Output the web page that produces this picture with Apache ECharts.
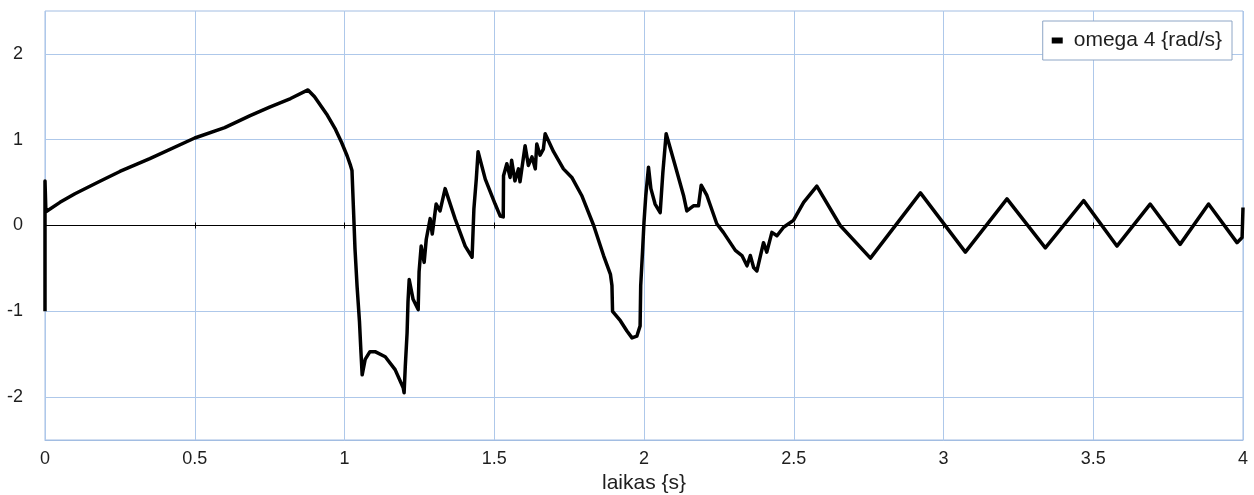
<!DOCTYPE html>
<html>
<head>
<meta charset="utf-8">
<script src="https://cdn.jsdelivr.net/npm/echarts@6/dist/echarts.min.js"></script>
<style>
  html, body { margin: 0; padding: 0; background: #fff; }
  #chart { width: 1254px; height: 495px; }
</style>
</head>
<body>
<div id="chart"></div>
<script>
// Time samples (s) and angular velocity omega 4 (rad/s)
const timeSec = [
  0, 0, 0.003, 0.05, 0.10, 0.18, 0.25, 0.35, 0.50, 0.60, 0.685, 0.75, 0.82, 0.878,
  0.90, 0.94, 0.97, 0.99, 1.009, 1.02, 1.025, 1.030, 1.035, 1.042, 1.050, 1.055, 1.059, 1.069, 1.085,
  1.102, 1.136, 1.169, 1.196, 1.199, 1.203, 1.209, 1.212, 1.216, 1.229, 1.246, 1.249,
  1.256, 1.266, 1.273, 1.286, 1.293, 1.306, 1.319, 1.336, 1.369, 1.403, 1.426, 1.430,
  1.432, 1.440, 1.446, 1.470, 1.503, 1.520, 1.530, 1.531, 1.542, 1.553, 1.558, 1.569,
  1.581, 1.586, 1.603, 1.614, 1.626, 1.637, 1.642, 1.653, 1.664, 1.670, 1.698, 1.731,
  1.759, 1.792, 1.832, 1.865, 1.888, 1.893, 1.895, 1.921, 1.943, 1.960, 1.976, 1.987,
  1.989, 1.995, 2.000, 2.006, 2.015, 2.023, 2.037, 2.054, 2.063, 2.074, 2.104, 2.132,
  2.143, 2.165, 2.182, 2.191, 2.210, 2.243, 2.265, 2.305, 2.327, 2.344, 2.355, 2.366,
  2.377, 2.399, 2.410, 2.427, 2.444, 2.466, 2.499, 2.533, 2.577, 2.655, 2.756, 2.923,
  3.073, 3.212, 3.340, 3.468, 3.579, 3.690, 3.790, 3.885, 3.980, 3.997, 4.000
];
const omega4 = [
  -1.00, 0.52, 0.16, 0.27, 0.37, 0.51, 0.63, 0.78, 1.02, 1.14, 1.28, 1.38, 1.48, 1.58,
  1.50, 1.30, 1.12, 0.97, 0.81, 0.70, 0.64, 0.19, -0.27, -0.71, -1.12, -1.48, -1.74, -1.56, -1.47,
  -1.47, -1.53, -1.68, -1.89, -1.95, -1.64, -1.25, -0.89, -0.63, -0.86, -0.98, -0.54,
  -0.24, -0.43, -0.16, 0.08, -0.10, 0.25, 0.17, 0.43, 0.08, -0.24, -0.37, -0.39,
  0.19, 0.54, 0.86, 0.54, 0.25, 0.11, 0.10, 0.58, 0.72, 0.56, 0.76, 0.52,
  0.66, 0.51, 0.93, 0.70, 0.80, 0.66, 0.95, 0.82, 0.89, 1.07, 0.86, 0.66,
  0.56, 0.35, 0.00, -0.35, -0.57, -0.70, -1.00, -1.11, -1.23, -1.31, -1.29, -1.17,
  -0.70, -0.31, 0.04, 0.35, 0.68, 0.43, 0.25, 0.15, 0.62, 1.07, 0.70, 0.35,
  0.17, 0.23, 0.23, 0.47, 0.35, 0.02, -0.08, -0.29, -0.35, -0.47, -0.35, -0.49,
  -0.53, -0.20, -0.31, -0.08, -0.12, -0.02, 0.06, 0.27, 0.46, 0.00, -0.38, 0.38,
  -0.31, 0.31, -0.26, 0.29, -0.24, 0.25, -0.22, 0.25, -0.20, -0.14, 0.21
];
const seriesName = 'omega 4 {rad/s}';
const xAxisTitle = 'laikas {s}';
const xRange = [0, 4, 0.5];     // min, max, step
const yRange = [-2.5, 2.5, 0.5]; // min, max, step (labels only on whole numbers)

const points = timeSec.map((t, i) => [t, omega4[i]]);

const gridBlue = '#aec8ea';
const textColor = '#1e1e1e';
const font = '"Liberation Sans", Arial, sans-serif';

const zeroAxis = (inside) => ({
  type: 'value', min: xRange[0], max: xRange[1], interval: xRange[2],
  position: 'bottom',
  axisLine: { show: true, onZero: true, onZeroAxisIndex: 0, lineStyle: { color: '#000', width: 1 } },
  axisTick: { show: true, inside: inside, length: 3, lineStyle: { color: '#000', width: 1 } },
  axisLabel: { show: false },
  splitLine: { show: false }
});

const chart = echarts.init(document.getElementById('chart'), null, { renderer: 'canvas' });
chart.setOption({
  animation: false,
  backgroundColor: '#fff',
  grid: {
    left: 45, right: 11, top: 11, bottom: 55,
    containLabel: false,
    outerBoundsMode: 'none',
    show: true, borderColor: '#a2bde2', borderWidth: 1, backgroundColor: 'transparent'
  },
  legend: {
    right: 22, top: 21,
    padding: [9, 10, 9, 9],
    backgroundColor: '#fff',
    borderColor: '#8ea6c6', borderWidth: 1,
    itemWidth: 11, itemHeight: 6,
    icon: 'rect',
    textStyle: { fontFamily: font, fontSize: 21, color: textColor, padding: [0, 0, 0, 6] },
    data: [{ name: seriesName, itemStyle: { color: '#000' } }]
  },
  xAxis: [
    {
      type: 'value', min: xRange[0], max: xRange[1], interval: xRange[2],
      position: 'bottom',
      name: xAxisTitle, nameLocation: 'middle', nameGap: 33,
      nameTextStyle: { fontFamily: font, fontSize: 21, color: textColor },
      axisLine: { show: true, onZero: false, lineStyle: { color: '#a2bde2', width: 1 } },
      axisTick: { show: false },
      axisLabel: { fontFamily: font, fontSize: 18, color: textColor, margin: 10 },
      splitLine: { show: true, lineStyle: { color: gridBlue, width: 1 } }
    },
    zeroAxis(false),
    zeroAxis(true)
  ],
  yAxis: {
    type: 'value', min: yRange[0], max: yRange[1], interval: yRange[2],
    axisLine: { show: false, onZero: false },
    axisTick: { show: false },
    axisLabel: {
      fontFamily: font, fontSize: 18, color: textColor, margin: 22,
      formatter: (v) => (Number.isInteger(v) ? String(v) : '')
    },
    splitLine: { show: true, lineStyle: { color: ['rgba(0,0,0,0)', gridBlue], width: 1 } }
  },
  series: [{
    name: seriesName,
    type: 'line',
    xAxisIndex: 0,
    data: points,
    showSymbol: false,
    symbol: 'none',
    lineStyle: { color: '#000', width: 3.5, join: 'round' },
    itemStyle: { color: '#000' },
    z: 5
  }]
});
</script>
</body>
</html>
